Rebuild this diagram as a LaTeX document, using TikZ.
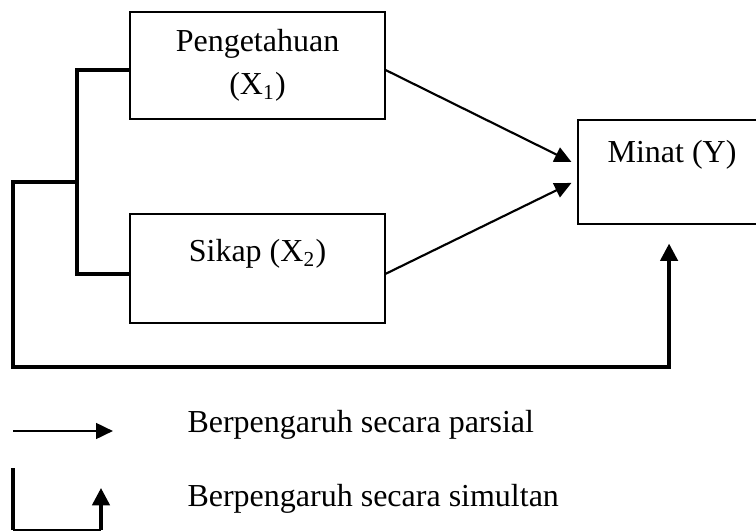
\documentclass[tikz,border=0pt]{standalone}
\usepackage{fontspec}
\setmainfont{Liberation Serif}
\usetikzlibrary{arrows.meta}

\begin{document}
\begin{tikzpicture}[x = 0.375pt, y = -0.375pt]
\tikzstyle{boxStyle}=[shape = rectangle, draw, line width = 0.5pt, inner sep = 0pt, font = \fontsize{12}{16}\selectfont, align = center]
\tikzstyle{partialStyle}=[line width = 0.8pt, -{Triangle[length = 6.3pt, width = 5.8pt]}]
\tikzstyle{simultanStyle}=[line width = 1.4pt]
\tikzstyle{simultanArrowStyle}=[line width = 1.3pt, -{Triangle[length = 6.5pt, width = 6.5pt]}]
\tikzstyle{legendStyle}=[anchor = base west, inner sep = 0pt, font = \fontsize{12}{14}\selectfont]
\useasboundingbox (0,0) rectangle (756,531);
\node[boxStyle, minimum width = 95.6pt, minimum height = 40.1pt] (x1) at (257.5, 65.5) {Pengetahuan\\(X\textsubscript{1})};
\node[boxStyle, minimum width = 95.6pt, text height = 18pt, text depth = 22.9pt] (x2) at (257.5, 268.5) {Sikap (X\textsubscript{2})};
\node[boxStyle, minimum width = 70.5pt, text height = 15.75pt, text depth = 23.25pt] (y) at (672, 172) {Minat (Y)};
\coordinate (bracketJoint) at (77, 182);
\coordinate (outerLeft) at (13, 367);
\draw[simultanStyle] ([yshift = -1.7pt]x1.west) -| (bracketJoint) |- ([yshift = -2pt]x2.west);
\draw[simultanArrowStyle] (bracketJoint) -| (outerLeft) -| ([xshift = -1.1pt, yshift = -7.1pt]y.south);
\draw[partialStyle] ([yshift = -1.7pt]x1.east) -- ([xshift = -2.2pt, yshift = 3.75pt]y.west);
\draw[partialStyle] ([yshift = -2pt]x2.east) -- ([xshift = -2.2pt, yshift = -4.1pt]y.west);
\coordinate (legPartialA) at (13, 431);
\coordinate (legPartialB) at (113, 431);
\coordinate (legSimA) at (13, 468);
\coordinate (legSimB) at (13, 530);
\coordinate (legSimC) at (101, 530);
\coordinate (legSimD) at (101, 488);
\draw[partialStyle, line width = 1pt] (legPartialA) -- (legPartialB);
\draw[simultanStyle] (legSimA) -- (legSimB);
\draw[line width = 0.6pt] (legSimB) -- (legSimC);
\draw[simultanArrowStyle] (legSimC) -- (legSimD);
\node[legendStyle] (legPartial) at (187, 432) {Berpengaruh secara parsial};
\node[legendStyle] (legSimultan) at (187, 506) {Berpengaruh secara simultan};
\end{tikzpicture}
\end{document}
